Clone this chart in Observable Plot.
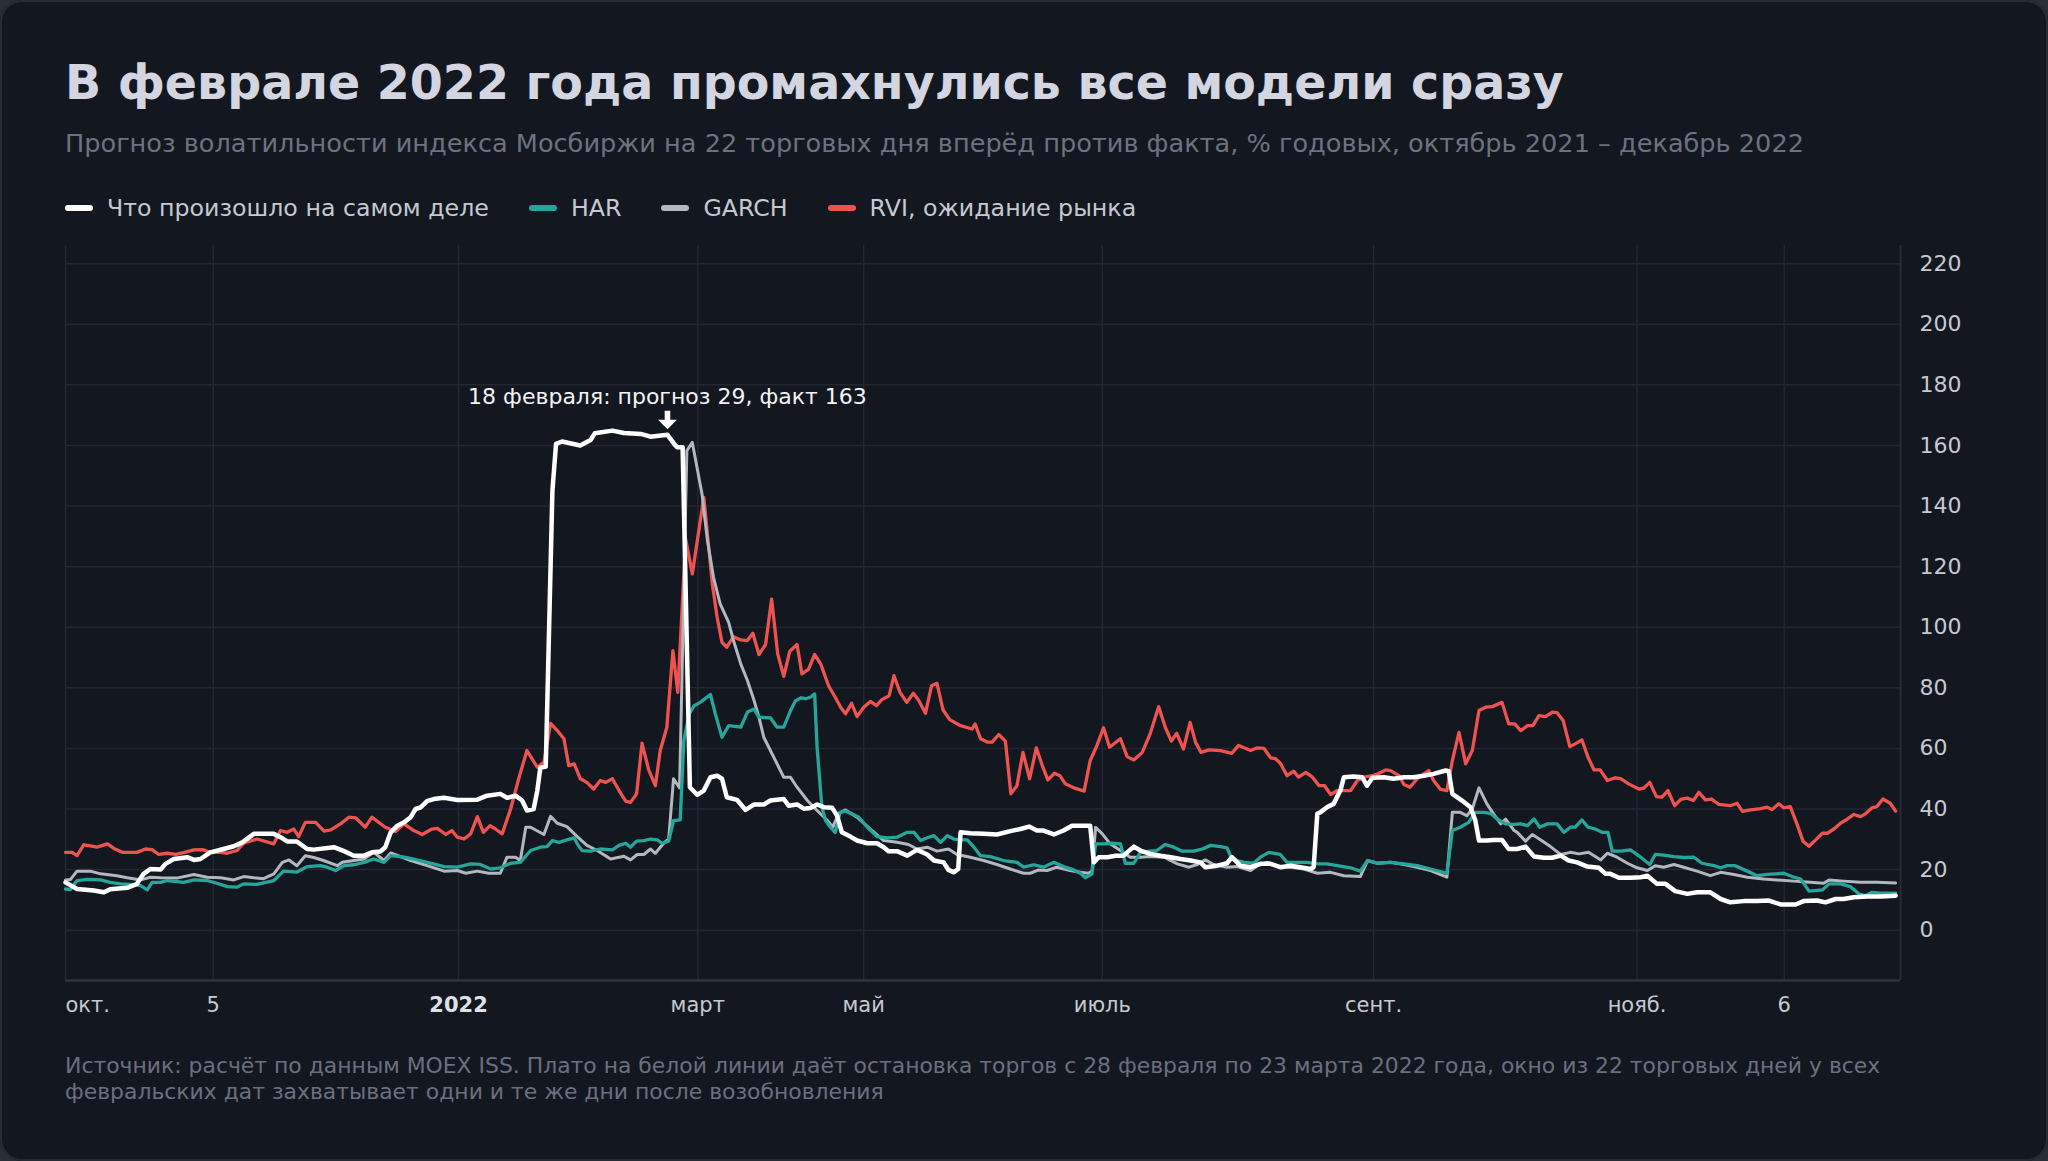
<!DOCTYPE html>
<html lang="ru">
<head>
<meta charset="utf-8">
<script src="https://cdn.jsdelivr.net/npm/d3@7"></script>
<script src="https://cdn.jsdelivr.net/npm/@observablehq/plot@0.6"></script>
<style>
  html, body { margin: 0; padding: 0; background: #2a2e37; }
  #card {
    position: relative; width: 2048px; height: 1161px; box-sizing: border-box;
    background: #131720; border-radius: 22px; box-shadow: inset 0 0 0 2px #262b36;
    overflow: hidden; font-family: "DejaVu Sans", sans-serif;
  }
  #title { position: absolute; left: 65px; top: 59px; font-size: 47.5px; line-height: 47.5px; font-weight: bold; color: #d3d5e0; white-space: nowrap; }
  #subtitle { position: absolute; left: 65px; top: 131px; font-size: 25.6px; line-height: 25.6px; color: #6d7281; white-space: nowrap; }
  #legend { position: absolute; left: 65px; top: 196px; display: flex; align-items: center; font-size: 23.7px; line-height: 24px; color: #c6c9d2; white-space: nowrap; }
  .item { display: flex; align-items: center; margin-right: 40px; }
  .sw { width: 28px; height: 6px; border-radius: 3px; margin-right: 14px; }
  #chart { position: absolute; left: 0; top: 230px; }
  #note { position: absolute; left: 65px; top: 1053px; font-size: 21.9px; line-height: 26px; color: #6b7080; white-space: nowrap; }
</style>
</head>
<body>
<div id="card">
  <div id="title">В феврале 2022 года промахнулись все модели сразу</div>
  <div id="subtitle">Прогноз волатильности индекса Мосбиржи на 22 торговых дня вперёд против факта, % годовых, октябрь 2021 – декабрь 2022</div>
  <div id="legend"></div>
  <div id="chart"></div>
  <div id="note">Источник: расчёт по данным MOEX ISS. Плато на белой линии даёт остановка торгов с 28 февраля по 23 марта 2022 года, окно из 22 торговых дней у всех<br>февральских дат захватывает одни и те же дни после возобновления</div>
</div>
<script>
// x = торговый день от 1 октября 2021 (0) ; value = % годовых
const actual = [[0,15.8],[1.9,13.6],[4.7,13.1],[6.3,12.5],[7.4,13.5],[10.2,14],[11.8,15.3],[12.9,18.6],[14,20.2],[15.7,20],[16.5,21.9],[17.9,23.5],[20.1,24.1],[21.2,23.2],[22.3,23.5],[23.9,25.7],[26.1,26.8],[27.8,27.7],[29.2,29],[31.1,31.8],[34.4,31.8],[35.5,30.7],[36.6,29.3],[38.2,29.3],[39.9,26.8],[41,26.6],[44.3,27.4],[46,26.1],[47.6,24.6],[49.3,24.6],[50.6,25.7],[52,26],[52.8,27.4],[53.7,32.3],[54.8,34.5],[55.9,35.6],[57,37.3],[57.8,40],[58.6,40.5],[59.7,42.6],[60.8,43.3],[62.5,43.7],[64.7,43],[68,43.1],[69.6,44.4],[71.8,45],[72.9,43.7],[74.3,44.4],[75.4,42.8],[76.2,39.5],[77.3,40],[77.9,46],[78.4,53.6],[79.3,54],[80.4,145],[81,160.5],[82,161.3],[85,160],[86.7,161.8],[87.4,164],[90.3,164.9],[92.2,164.1],[95,163.8],[96.6,162.9],[99.4,163.5],[100.5,160.5],[101,159.4],[101.9,159.4],[103.1,47.2],[104.3,44.7],[105.4,46.1],[106.5,50.5],[107.6,51],[108.4,50],[109.2,43.9],[110.9,43],[112.3,39.7],[113.7,41.5],[115.3,41.5],[116.4,42.8],[118.6,43.3],[119.4,41.1],[120.8,41.5],[121.9,40.1],[123,40.3],[124.1,41.5],[125.2,40.6],[126.6,40.4],[127.4,37.8],[128.2,32.3],[129.6,30.9],[130.7,29.6],[132.4,28.7],[134,28.7],[135.1,27.4],[135.9,26.1],[137.3,26.1],[139,24.6],[140.6,26.5],[142.3,25],[143.4,23],[145,22.4],[145.8,19.9],[146.7,19.1],[147.4,20.2],[147.8,32.3],[149.4,32],[151.6,31.8],[153.8,31.6],[156,32.7],[157.7,33.4],[159.1,34.2],[160.4,32.9],[161.5,32.9],[163.2,31.6],[164.8,32.9],[166.2,34.5],[167.6,34.5],[169.2,34.5],[169.8,22.4],[170.6,24.1],[172,24.1],[173.4,24.6],[174.7,24.6],[176.4,27.6],[177.5,26.3],[179.1,25.2],[180.8,24.6],[182.5,24.1],[184.1,23.5],[185.8,23],[187.4,22.4],[188.2,20.8],[190.2,21.3],[191.8,22.1],[192.6,24.1],[194,21.3],[195.7,20.8],[197.3,21.9],[199,21.9],[200.6,20.8],[202.3,21.3],[203.9,20.8],[205.6,20.2],[206.1,20.8],[206.7,38.4],[207.2,38.9],[208.3,40.6],[209.4,41.7],[210.5,46.1],[211.1,50.5],[212.7,50.7],[214.1,50.5],[214.9,47.7],[215.8,50.3],[217.7,50.5],[219.3,50],[221,50.5],[222.6,50.5],[224.3,51],[225.9,51.6],[227.9,52.7],[228.4,52.5],[229,45],[230.6,42.8],[232,40.6],[232.8,36.2],[233.4,29.6],[234.7,29.6],[235.8,29.8],[237.2,29.8],[238.3,26.8],[239.7,26.8],[241.1,27.6],[242.5,24.3],[244.1,23.9],[245.5,23.9],[246.9,24.6],[248.2,23],[249.6,22.4],[251.3,21],[253.2,20.6],[254.3,18.6],[255.1,18.6],[256.5,17.3],[258.4,17.3],[260.1,17.5],[261.2,18],[262.8,15.3],[264.2,15.3],[265.8,12.9],[267.8,12],[269.4,12.5],[271.6,12.5],[273.3,10.3],[274.9,9.2],[277.1,9.6],[279.3,9.6],[281.3,9.8],[283.2,8.5],[285.7,8.5],[287,9.6],[289.2,9.8],[290.6,9.2],[292.3,10.3],[293.6,10.3],[295.3,10.9],[297.5,11.1],[299.7,11.1],[302.2,11.4]];

const har = [[0,13.6],[0.8,13.4],[1.9,16.4],[3.6,16.8],[5.8,16.6],[7.4,15.8],[9.1,15.3],[10.7,15.1],[12.4,14.7],[13.5,13.3],[14.3,15.8],[15.7,15.8],[16.8,16.4],[19.5,15.8],[21.2,16.6],[23.4,16.4],[25,15.5],[26.7,14.4],[28.3,14.2],[29.4,15.3],[31.6,15.1],[34.4,16.4],[36,19.5],[38.2,19.2],[39.9,21],[42.1,21.3],[43.2,20.8],[44.6,19.7],[46,21.3],[47.6,21.6],[49.3,22.4],[50.9,23.5],[52.6,22.4],[53.7,24.6],[55.9,24.1],[57.5,23.5],[59.7,22.4],[61.9,21.3],[62.5,21],[64.7,20.8],[66.9,21.9],[68.5,21.7],[70.2,20.2],[71.8,20.6],[73.5,22.1],[75.1,22.4],[76.8,26.3],[78.4,27.4],[79.5,27.6],[80.4,29.6],[81.5,29],[82.8,29.8],[84,30.5],[84.5,28.5],[85.3,26.3],[86.7,26.1],[88.3,26.8],[90.3,26.5],[91.4,28],[92.5,28.7],[93.3,27.4],[94.3,29.4],[95.5,29.6],[96.6,30.1],[97.7,29.8],[98.5,28.7],[99.6,29.4],[100.4,36.2],[101.5,36.4],[102.1,62.6],[103,71.4],[103.8,74.1],[104.8,75.2],[106.5,77.8],[107.3,71.4],[108.4,63.7],[109.5,67.5],[111.5,67],[112.6,72],[113.7,73],[114.5,70.3],[116.4,70.1],[117.5,67],[118.6,67],[119.7,72.4],[120.5,75.6],[121.4,76.7],[122.2,76.4],[123,76.9],[123.7,78],[124.1,60.4],[124.9,40.6],[125.5,36.2],[126.3,34],[127.1,32.3],[127.9,38.9],[128.8,39.3],[129.9,38.4],[131,37.3],[132.4,34],[134,30.9],[135.7,30.5],[137.3,30.7],[139,32.3],[140.1,32.3],[141.2,29.6],[142.3,30.5],[143.4,31.2],[144.5,29],[145.6,31.2],[146.7,30.1],[147.8,29.8],[148.9,29.8],[150,27.4],[151.1,24.6],[152.7,24.3],[154.9,23],[157.1,22.4],[158.2,20.8],[159.9,21.6],[161.5,20.8],[163.2,22.4],[164.8,21],[166.5,19.9],[167.6,18.8],[168.4,17.3],[169.5,18.6],[170.1,28.5],[171.4,28.5],[172.8,28.7],[174.2,28.5],[175,22.1],[176.4,22.1],[177.5,25.7],[178.9,26.1],[180.2,26.3],[181.6,28.3],[183,27.4],[184.4,26.1],[186.3,26.1],[187.7,26.8],[189.1,28],[190.7,27.6],[191.8,27.2],[192.6,23.5],[194.6,22.4],[196.2,22.1],[197.3,24.1],[198.7,25.7],[200.6,25],[201.7,22.4],[203.4,22.4],[205,22.4],[206.7,21.9],[208.3,21.9],[210,21.3],[212.2,20.6],[213.8,19.5],[215,23],[216.6,22.1],[218.8,22.4],[221,21.9],[223.2,21.3],[225.4,20.2],[228.1,18.8],[229,32.9],[230.3,34],[231.7,35.6],[232.8,38.9],[234.2,38.9],[235.3,38.6],[236.4,36.7],[237.8,35.1],[239.2,34.9],[240.3,35.1],[241.4,34.5],[242.5,36.7],[243.4,34],[244.7,35.1],[246.3,35.1],[247.4,32.3],[248.5,34],[249.3,34],[250.4,36.4],[251.4,34],[252.6,33.4],[253.7,32.3],[254.7,32.3],[255.4,26.1],[256.8,26.1],[258.4,26.5],[260.1,24.1],[261.6,21.7],[262.5,25],[263.9,24.8],[265.6,24.3],[267.2,24],[268.9,24.1],[270.2,22.1],[272.2,21.3],[273.3,20.6],[274.4,21.3],[275.7,21.3],[277.7,19.5],[279.3,18],[281,18.4],[282.4,18.6],[283.7,18.8],[285.1,17.7],[286.5,16.9],[287.9,12.9],[290.1,13.3],[291.2,15.3],[293.1,15.3],[294.7,14.4],[296.1,12],[297.2,11.4],[298.3,12.5],[299.7,12.2],[302.2,12.2]];

const garch = [[0,16.6],[0.8,16.7],[1.9,19.5],[4.1,19.5],[5.8,18.6],[8.5,18],[10.2,17.3],[12.4,16.6],[14,17.5],[15.7,17.3],[18.4,17.2],[21.2,18.4],[23.4,17.5],[25.6,17.3],[27.8,16.6],[29.4,17.7],[31.1,17.3],[32.7,17],[34.4,18.6],[35.8,22.4],[36.9,23.2],[38.2,21.3],[39.6,24.6],[41,24],[42.6,23],[44.9,21.3],[45.7,22.4],[47.6,23],[49.3,23.5],[50.9,25.7],[52.6,23],[53.7,25.5],[57,23],[59.7,21.3],[61.9,19.9],[62.5,19.5],[64.7,19.7],[66.1,18.8],[68,19.5],[69.9,18.8],[71.8,18.8],[72.9,24.1],[74.3,24.1],[75.1,23],[76,34],[76.8,34],[79,31.6],[80.1,37.6],[81.2,35.3],[82.8,34.2],[84.5,30.9],[86.1,28],[87.8,26.3],[90,23.5],[92.2,24.4],[93.3,23.2],[94.4,25],[95.5,25],[96.6,26.8],[97.4,25.4],[98.8,28.8],[99.6,30.1],[100.4,50],[101.4,47],[102.6,158.3],[103.5,161],[105.1,144],[106,128.6],[107,116.5],[108.1,107.7],[109.5,101.6],[110.3,95.6],[111.5,87.9],[112.6,82.4],[113.7,75.8],[114.5,70.3],[115.3,63.7],[118.6,50.5],[119.7,50.5],[120.8,47.2],[122.5,42.8],[124.1,39.5],[125.8,36.2],[126.7,34],[127.7,38.6],[128.8,39.7],[130.7,37.3],[132.9,33.4],[135.1,29.6],[137.3,29],[139.2,28.3],[140.6,26.8],[142.3,27.4],[143.9,26.1],[145.8,26.8],[147.2,25],[149.4,24.1],[151.6,23],[153.8,21.7],[156,20.2],[158.2,18.8],[159.3,18.8],[160.7,19.9],[162.1,19.7],[163.7,20.8],[165.9,19.7],[167.6,19.1],[168.9,18.8],[169.5,19.5],[170.1,34],[171.2,31.8],[172.5,28.5],[174.2,26.3],[175.8,24.1],[177.5,24.1],[179.1,24.3],[181.4,24.1],[183.6,21.9],[185.5,20.8],[186.9,21.7],[188.2,23.2],[189.6,21.7],[191.8,20.8],[193.5,21],[195.7,19.7],[196.8,21.3],[198.4,22.4],[200.1,21],[202.3,20.8],[204.5,20.2],[206.7,18.8],[208.9,19.1],[211.1,18],[213.8,17.7],[215,23],[216.6,22.1],[218.8,22.4],[221,21.7],[223.2,20.8],[225.4,19.7],[228.1,17.5],[229,38.9],[230.3,38.9],[231.4,37.8],[232.3,40],[233.4,47],[234.7,41.7],[235.8,38.4],[237,35.1],[237.8,36.7],[239.2,32.9],[239.7,32.3],[241.1,29.4],[242.2,31.6],[243.6,29.8],[245.2,27.6],[246.9,25],[248.5,25.7],[249.9,25.2],[251.5,25.7],[253.5,23.2],[254.6,25.4],[256.2,24.1],[257.9,22.1],[259.5,20.6],[261.2,19.7],[262.5,21.3],[263.9,20.8],[265.6,21.7],[267.2,20.8],[269.4,19.5],[271.6,18],[273.3,19.1],[275.5,18.4],[277.7,17.5],[280.4,16.9],[282.6,16.6],[285.4,16.2],[288.1,15.8],[290.3,15.5],[291.2,16.6],[293.6,16.2],[296.4,15.8],[299.1,15.8],[302.2,15.6]];

const rvi = [[0,25.7],[1.1,25.7],[1.9,24.6],[3,28.2],[4.1,27.8],[5.2,27.4],[6.9,28.5],[8,27],[9.4,25.7],[11.8,25.7],[13.2,26.8],[14.3,26.6],[15.4,25],[16.8,25.4],[18.2,25],[19.5,25.6],[21.2,26.5],[22.6,26.6],[23.9,25.7],[25.6,25.7],[26.7,25.4],[28.3,26.3],[29.4,28.7],[31.6,30.1],[34.4,28.5],[35.5,32.9],[36.6,32.3],[37.7,33.4],[38.5,30.9],[39.6,35.6],[41.3,35.6],[42.7,32.7],[43.8,33.1],[45.4,35.1],[46.8,37.3],[47.9,37.1],[49.5,34],[50.6,37.3],[52.8,34],[54.5,32.6],[55.9,35.1],[57.5,32.9],[58.9,31.6],[60.5,33.4],[61.4,33.6],[62.8,31.6],[63.8,32.9],[64.7,30.7],[65.8,30.1],[66.9,31.8],[68,37.5],[69,32.3],[70.1,34.5],[71,33.4],[72.1,31.8],[73.5,40],[74.9,50.5],[76.2,59.3],[77.9,53.8],[79,55.4],[80.1,68.3],[81.2,65.9],[82.3,63.2],[83.1,54.3],[84,54.9],[85,50],[86.1,48.8],[87.2,46.6],[88.3,49.4],[89.2,48.8],[90.3,50],[91.4,46.1],[92.5,42.6],[93.3,42.2],[94.3,45],[95.2,61.7],[96.3,52.9],[97.4,47.7],[98.2,59.3],[99.3,67],[100.3,92.3],[101.1,78.5],[102.4,129.1],[103.5,117.6],[105.4,142.9],[106.8,114.3],[107.6,103.3],[108.4,95],[109.2,93.4],[110.3,96.9],[111.5,95.8],[112.6,95.6],[113.5,98],[114.5,91],[115.6,94.3],[116.6,109.3],[117.6,91.2],[118.6,83.8],[119.6,92.1],[120.8,94.3],[121.6,84.6],[122.7,86.2],[123.7,91],[124.7,87.9],[126,80.7],[127.1,76.9],[128,73.6],[128.8,71.4],[129.8,74.9],[130.7,70.5],[131.8,73.6],[132.9,75.5],[133.9,74.1],[134.8,76.1],[136,77.4],[136.8,84],[137.8,78.5],[138.9,75.2],[140,78.2],[140.9,75.8],[142,71.6],[143,80.7],[143.9,81.5],[144.9,72.7],[146,69.5],[147.8,67.5],[149.7,66.4],[150.2,68.1],[151.1,63.2],[152.2,62.1],[153,62.1],[154.1,64.6],[155.2,62.4],[156.1,45],[157.1,47.7],[158.1,58.7],[159.2,50],[160.3,60.2],[161.3,54.3],[162.2,49.6],[163.3,51.8],[164.2,51],[165.1,48.3],[166.5,47],[168.2,45.9],[169.2,56],[170.3,60.9],[171.4,66.8],[172.4,60.4],[174.2,63.2],[175.3,57.3],[176.4,56.2],[177.8,58.7],[179.1,64.8],[180.5,73.8],[181.6,67],[182.6,62.4],[183.5,65],[184.6,59.8],[185.7,68.6],[186.6,62],[187.5,58.7],[188.8,59.5],[190.7,59.3],[192.6,58.4],[193.7,61],[195.7,59.3],[196.8,60.2],[197.9,60],[199,56.9],[199.8,56.6],[200.6,55.1],[201.7,51],[202.8,52.5],[203.6,50.5],[204.8,52.1],[205.9,50.5],[207,47.7],[207.9,47.7],[208.9,44.8],[210,46.1],[212.2,46.1],[213.3,49.4],[214.4,50.5],[215.8,51],[216.9,51.8],[218,52.9],[218.8,52.7],[220.2,51],[221,48.1],[222,47.2],[223.2,50],[224.3,51.6],[225.1,52.7],[225.9,49.4],[227,46.6],[228.1,46.1],[229,56],[230.1,65.3],[231.2,54.9],[232.3,59.3],[233.4,72.5],[234.5,73.6],[235.6,73.8],[237.2,75.2],[238.3,68.1],[239.3,68.1],[240.3,65.9],[241.4,67.5],[242.3,67.5],[243.3,70.8],[244.4,70.5],[245.5,72],[246.3,71.8],[247.3,69.2],[248.4,60.6],[249.3,61.5],[250.4,62.8],[251.4,57.1],[252.4,52.9],[253.4,52.9],[254.6,49.4],[255.9,50.3],[256.8,50],[258.1,48.3],[259.8,46.6],[260.6,46.9],[261.6,48.8],[262.7,44.1],[263.6,43.9],[264.6,46.1],[265.7,41.1],[266.8,43.3],[267.8,43.6],[268.8,42.8],[269.7,45.5],[270.8,43],[271.8,43.3],[273,41.5],[274.9,41.1],[276,41.9],[276.9,39.2],[278.2,39.7],[279.9,40.1],[281,40.6],[281.8,39.8],[282.9,41.7],[283.7,40.4],[284.8,40.8],[285.9,35.1],[286.9,29.4],[287.9,27.7],[289,29.8],[290.1,32],[290.9,32],[292,33.4],[293.1,35.3],[294.2,36.7],[295.3,38.2],[296.4,37.5],[297.2,38.4],[298.3,40.4],[299.1,40.8],[300.1,43.3],[301.3,41.9],[302.2,39.3]];

const yTicks = [0, 20, 40, 60, 80, 100, 120, 140, 160, 180, 200, 220];
const xTickPos = [0, 24.4, 64.9, 104.4, 131.8, 171.2, 216, 259.5, 283.8];
const xTickLabels = ["окт.", "5", "2022", "март", "май", "июль", "сент.", "нояб.", "6"];
const xDomain = [0, 303];
const yDomain = [-16.6, 226];

const annotation = {x: 99.4, y: 163, text: "18 февраля: прогноз 29, факт 163"};

const series = [
  {name: "Что произошло на самом деле", color: "#ffffff"},
  {name: "HAR", color: "#26a69a"},
  {name: "GARCH", color: "#b3b8c0"},
  {name: "RVI, ожидание рынка", color: "#ef5350"}
];

// legend
const legend = document.getElementById("legend");
for (const s of series) {
  const it = document.createElement("div");
  it.className = "item";
  it.innerHTML = `<span class="sw" style="background:${s.color}"></span><span>${s.name}</span>`;
  legend.appendChild(it);
}

// filled down-arrow symbol for the annotation pointer
const downArrow = {
  draw(context) {
    context.moveTo(-2.8, -9.5);
    context.lineTo(2.8, -9.5);
    context.lineTo(2.8, -0.5);
    context.lineTo(9.5, -0.5);
    context.lineTo(0, 9);
    context.lineTo(-9.5, -0.5);
    context.lineTo(-2.8, -0.5);
    context.closePath();
  }
};

const ticks = xTickPos.map((p, i) => ({p, label: xTickLabels[i], i}));
const lineOpts = (color, w) => ({x: d => d[0], y: d => d[1], stroke: color, strokeWidth: w, strokeLinejoin: "round", strokeLinecap: "round"});

const chart = Plot.plot({
  width: 2048,
  height: 800,
  marginLeft: 65,
  marginRight: 148,
  marginTop: 15,
  marginBottom: 50,
  style: {background: "transparent", color: "#c6c9d2", fontFamily: "DejaVu Sans", fontSize: "22px"},
  x: {type: "linear", domain: xDomain, axis: null},
  y: {type: "linear", domain: yDomain, axis: null},
  marks: [
    Plot.gridY(yTicks, {stroke: "#222733", strokeOpacity: 1, strokeWidth: 1.5}),
    Plot.gridX(xTickPos, {stroke: "#222733", strokeOpacity: 1, strokeWidth: 1.5}),
    Plot.ruleX([xDomain[1]], {stroke: "#262b37", strokeWidth: 2}),
    Plot.ruleY([yDomain[0]], {stroke: "#2e3340", strokeWidth: 2.5}),
    Plot.line(rvi, lineOpts(series[3].color, 3.3)),
    Plot.line(garch, lineOpts(series[2].color, 3)),
    Plot.line(har, lineOpts(series[1].color, 3.3)),
    Plot.line(actual, lineOpts(series[0].color, 4.5)),
    Plot.axisY(yTicks, {anchor: "right", label: null, tickSize: 0, tickPadding: 19, fill: "#c6c9d2", fontSize: 22}),
    Plot.text(ticks.filter(d => d.i === 0), {x: "p", text: "label", frameAnchor: "bottom", dy: 31, textAnchor: "start", fill: "#c6c9d2", fontSize: 21}),
    Plot.text(ticks.filter(d => d.label === "2022"), {x: "p", text: "label", frameAnchor: "bottom", dy: 31, fontWeight: "bold", fill: "#dfe1e8", fontSize: 21}),
    Plot.text(ticks.filter(d => d.i > 0 && d.label !== "2022"), {x: "p", text: "label", frameAnchor: "bottom", dy: 31, fill: "#c6c9d2", fontSize: 21}),
    Plot.text([annotation], {x: "x", y: "y", text: "text", dy: -39, fill: "#f4f4f6", fontSize: 22}),
    Plot.dot([annotation], {x: "x", y: "y", dy: -16, symbol: downArrow, fill: "#ffffff", stroke: "none", r: 8})
  ]
});
document.getElementById("chart").appendChild(chart);
</script>
</body>
</html>
